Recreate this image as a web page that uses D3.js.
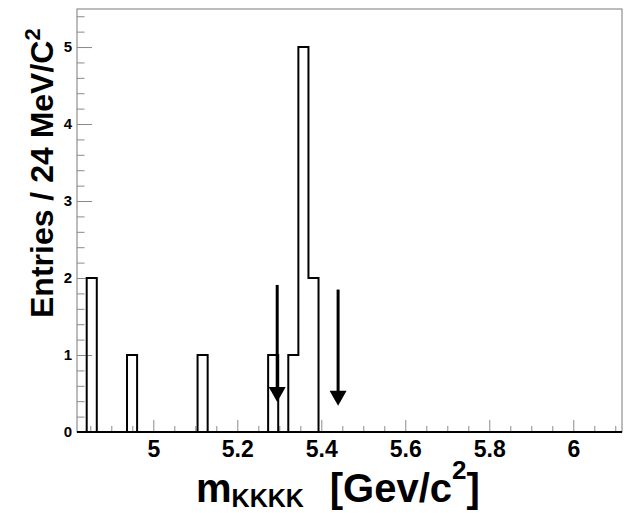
<!DOCTYPE html>
<html>
<head>
<meta charset="utf-8">
<script src="https://cdn.jsdelivr.net/npm/d3@7"></script>
<style>
  html, body { margin: 0; padding: 0; background: #fff; }
  svg { display: block; }
  text { font-family: "Liberation Sans", Arial, Helvetica, sans-serif; font-weight: bold; fill: #000; }
</style>
</head>
<body>
<svg id="chart" width="627" height="513"></svg>
<script>
// ---- data ----
const histStart = 4.8414;           // low edge of first bin [GeV/c^2]
const binWidth = 0.024;             // 24 MeV/c^2
const counts = [2,0,0,0,1,0,0,0,0,0,0,1,0,0,0,0,0,0,1,0,1,5,2,0,0,0,0,0,0,0,
                0,0,0,0,0,0,0,0,0,0,0,0,0,0,0,0,0,0,0,0,0,0,0];
const xMajorTicks = [5, 5.2, 5.4, 5.6, 5.8, 6];
const xTickLabels = ["5", "5.2", "5.4", "5.6", "5.8", "6"];
const yMajorTicks = [0, 1, 2, 3, 4, 5];
const yTickLabels = ["0", "1", "2", "3", "4", "5"];
const arrowX = [5.295, 5.44];
const arrowTop = [1.91, 1.85];
const arrowTip = [0.39, 0.34];
const xDomain = [4.8183, 6.116];
const yDomain = [0, 5.494];

// ---- layout ----
const L = 77, R = 622, T = 9, B = 432;
const svg = d3.select("#chart");
const x = d3.scaleLinear().domain(xDomain).range([L, R]);
const y = d3.scaleLinear().domain(yDomain).range([B, T]);
const tickGrey = "#8a8a8a";

// frame
svg.append("rect").attr("x", L).attr("y", T).attr("width", R - L).attr("height", B - T)
  .attr("fill", "none").attr("stroke", "#7a7a7a").attr("stroke-width", 1);

// minor ticks
const xMinor = d3.range(97, 123).map(i => i * 0.05).filter(v => v > xDomain[0] && v < xDomain[1] && !xMajorTicks.some(m => Math.abs(m - v) < 1e-6));
const yMinor = d3.range(0, 28).map(i => i * 0.2).filter(v => v <= yDomain[1] && !yMajorTicks.some(m => Math.abs(m - v) < 1e-6));

function styleAxis(g) {
  g.select(".domain").remove();
  g.selectAll(".tick line").attr("stroke", tickGrey).attr("stroke-width", 1);
}

svg.append("g").attr("transform", `translate(0,${B})`)
  .call(d3.axisBottom(x).tickValues(xMinor).tickSize(-6).tickFormat(""))
  .call(styleAxis);
svg.append("g").attr("transform", `translate(0,${B})`)
  .call(d3.axisBottom(x).tickValues(xMajorTicks).tickSize(-12).tickPadding(9)
        .tickFormat((d, i) => xTickLabels[i]))
  .call(styleAxis)
  .call(g => g.selectAll("text").attr("font-size", 23).attr("font-family", null).attr("fill", "#000"));

svg.append("g").attr("transform", `translate(${L},0)`)
  .call(d3.axisLeft(y).tickValues(yMinor).tickSize(-7.5).tickFormat(""))
  .call(styleAxis);
svg.append("g").attr("transform", `translate(${L},0)`)
  .call(d3.axisLeft(y).tickValues(yMajorTicks).tickSize(-15).tickPadding(5)
        .tickFormat((d, i) => yTickLabels[i]))
  .call(styleAxis)
  .call(g => g.selectAll("text").attr("font-size", 15).attr("font-family", null).attr("fill", "#000"));

// histogram step outline
const pts = [[histStart, 0]];
counts.forEach((c, i) => {
  pts.push([histStart + i * binWidth, c]);
  pts.push([histStart + (i + 1) * binWidth, c]);
});
pts.push([histStart + counts.length * binWidth, 0]);
svg.append("path")
  .attr("d", d3.line().x(d => x(d[0])).y(d => y(d[1]))(pts))
  .attr("fill", "none").attr("stroke", "#000").attr("stroke-width", 2);

// baseline (bottom axis line)
svg.append("line").attr("x1", L).attr("x2", R).attr("y1", y(0)).attr("y2", y(0))
  .attr("stroke", "#000").attr("stroke-width", 2);

// arrows
arrowX.forEach((ax, i) => {
  const px = x(ax), pt = y(arrowTop[i]), tip = y(arrowTip[i]);
  const hh = 15, hw = 8.5;
  svg.append("line").attr("x1", px).attr("x2", px).attr("y1", pt).attr("y2", tip - hh + 1)
    .attr("stroke", "#000").attr("stroke-width", 3);
  svg.append("path")
    .attr("d", `M${px - hw},${tip - hh}L${px + hw},${tip - hh}L${px},${tip}Z`)
    .attr("fill", "#000");
});

// x axis title
const xt = svg.append("text").attr("x", 196).attr("y", 502).attr("font-size", 40);
xt.append("tspan").text("m");
xt.append("tspan").attr("font-size", 25).attr("dy", 5).text("KKKK");
xt.append("tspan").attr("dy", -5).attr("dx", 26).text("[Gev/c");
xt.append("tspan").attr("font-size", 26).attr("dy", -23).text("2");
xt.append("tspan").attr("dy", 23).text("]");

// y axis title
const yt = svg.append("text").attr("transform", "translate(53,318) rotate(-90)").attr("font-size", 32);
yt.append("tspan").text("Entries / 24 MeV/C");
yt.append("tspan").attr("font-size", 22).attr("dy", -13).text("2");
</script>
</body>
</html>
